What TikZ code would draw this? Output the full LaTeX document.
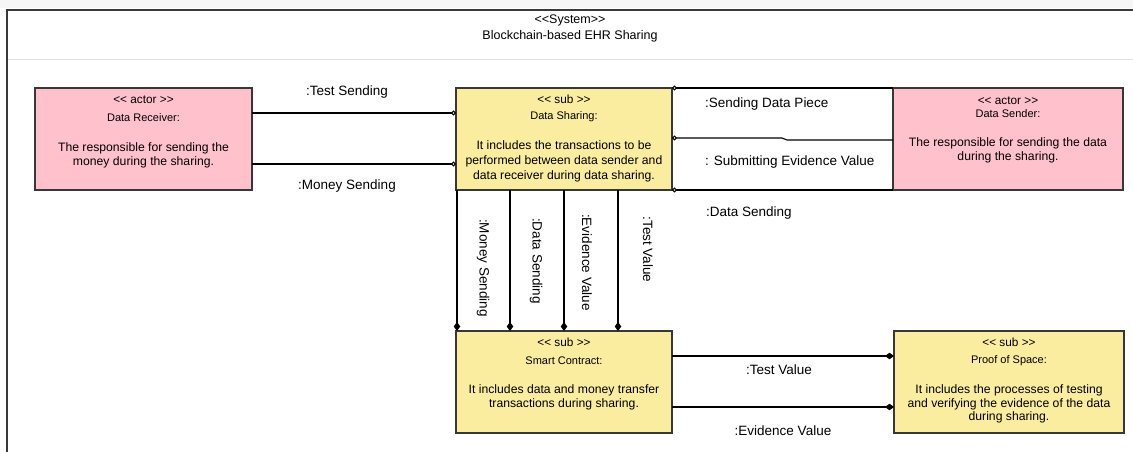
\documentclass[tikz,border=0pt]{standalone}
\usepackage{fontspec}
\setmainfont{Liberation Sans}
\usetikzlibrary{arrows.meta}
\definecolor{pinkfill}{RGB}{255,194,205}
\definecolor{yellowfill}{RGB}{250,237,160}
\definecolor{edgecol}{RGB}{55,55,55}
\begin{document}
\begin{tikzpicture}[x=1pt,y=-1pt,
  box/.style={draw=edgecol, line width=1.1pt, inner sep=0pt, outer sep=0pt, minimum height=102pt},
  actorbox/.style={box, fill=pinkfill},
  subbox/.style={box, fill=yellowfill},
  btxt/.style={font=\fontsize{11}{13.5}\selectfont, align=center, inner sep=0pt},
  stxt/.style={font=\fontsize{11.8}{13.5}\selectfont, align=center, inner sep=0pt},
  dtxt/.style={font=\fontsize{12.2}{13.8}\selectfont, align=center, inner sep=0pt},
  lbl/.style={font=\fontsize{13.5}{16}\selectfont, inner sep=0pt},
  ttl/.style={font=\fontsize{12.5}{14}\selectfont, inner sep=0pt},
  conn/.style={draw=black, line width=1.1pt},
  ocirc/.style={conn, -{Circle[open,length=5pt,width=5pt,fill=white]}},
  ocircs/.style={conn, {Circle[open,length=5pt,width=5pt,fill=white]}-},
  diam/.style={conn, -{Diamond[length=9pt,width=6.5pt]}}
]
\useasboundingbox (0,0) rectangle (1133,452);
\fill[gray!7] (0,0) rectangle (1133,8);
% system frame
\draw[line width=1.6pt, draw=gray!45!black] (1140,10) -- (7,10) -- (7,460);
\draw[line width=0.8pt, draw=gray!25] (8,59) -- (1140,59);
\node[ttl] (sysst) at (570,20) {<{}<System>{}>};
\node[ttl] (sysnm) at (570,36) {Blockchain-based EHR Sharing};

% boxes
\node[actorbox, minimum width=217pt] (recv) at (143.5,139) {};
\node[subbox, minimum width=216pt] (share) at (564,139) {};
\node[actorbox, minimum width=230pt] (sender) at (1008,139) {};
\node[subbox, minimum width=216pt] (smart) at (564,382) {};
\node[subbox, minimum width=230pt] (pos) at (1009,382) {};

% box texts
\node[stxt] (recvst) at ([yshift=-12pt]recv.north) {<{}< actor >{}>};
\node[btxt] (recvnm) at ([yshift=-30pt]recv.north) {Data Receiver:};
\node[dtxt] (recvds) at ([yshift=-67.5pt]recv.north) {The responsible for sending the\\money during the sharing.};

\node[stxt] (sharest) at ([yshift=-11pt]share.north) {<{}< sub >{}>};
\node[btxt] (sharenm) at ([yshift=-29pt]share.north) {Data Sharing:};
\node[dtxt, font=\fontsize{12.2}{15}\selectfont] (shareds) at ([yshift=-73pt]share.north) {It includes the transactions to be\\performed between data sender and\\data receiver during data sharing.};

\node[stxt] (senderst) at ([yshift=-13pt]sender.north) {<{}< actor >{}>};
\node[btxt] (sendernm) at ([yshift=-26pt]sender.north) {Data Sender:};
\node[dtxt] (senderds) at ([yshift=-62pt]sender.north) {The responsible for sending the data\\during the sharing.};

\node[stxt] (smartst) at ([yshift=-11pt]smart.north) {<{}< sub >{}>};
\node[btxt] (smartnm) at ([yshift=-30pt]smart.north) {Smart Contract:};
\node[dtxt] (smartds) at ([yshift=-66pt]smart.north) {It includes data and money transfer\\transactions during sharing.};

\node[stxt] (posst) at ([yshift=-11pt]pos.north) {<{}< sub >{}>};
\node[btxt] (posnm) at ([yshift=-30pt]pos.north) {Proof of Space:};
\node[dtxt] (posds) at ([yshift=-73pt]pos.north) {It includes the processes of testing\\and verifying the evidence of the data\\during sharing.};

% receiver <-> sharing
\draw[ocirc] ([yshift=26pt]recv.east) -- ([yshift=26pt]share.west);
\draw[ocirc] ([yshift=-25pt]recv.east) -- ([yshift=-25pt]share.west);
\node[lbl] (lts) at (347,92) {:Test Sending};
\node[lbl] (lms) at (347,186) {:Money Sending};

% sharing <-> sender
\draw[ocircs] (share.north east) -- (sender.north west);
\draw[ocircs] ([yshift=1pt]share.east) -- ++(110,0) -- ++(5,2) -- ([yshift=-1pt]sender.west);
\draw[ocircs] (share.south east) -- (sender.south west);
\node[lbl, anchor=west] (lsdp) at (705,104) {:Sending Data Piece};
\node[lbl, anchor=west] (lsev) at (705,162) {: Submitting Evidence Value};
\node[lbl, anchor=west] (lds) at (706,213) {:Data Sending};

% sharing -> smart contract
\draw[diam] ([xshift=-107pt]share.south) -- ([xshift=-107pt]smart.north);
\draw[diam] ([xshift=-54pt]share.south) -- ([xshift=-54pt]smart.north);
\draw[diam] (share.south) -- (smart.north);
\draw[diam] ([xshift=54pt]share.south) -- ([xshift=54pt]smart.north);
\node[lbl, rotate=-90] (vms) at (483,268) {:Money Sending};
\node[lbl, rotate=-90] (vds) at (536,261) {:Data Sending};
\node[lbl, rotate=-90] (vev) at (587,262.5) {:Evidence Value};
\node[lbl, rotate=-90] (vtv) at (648,249.5) {:Test Value};

% smart contract -> proof of space
\draw[diam] ([yshift=26pt]smart.east) -- ([yshift=26pt]pos.west);
\draw[diam] ([yshift=-25pt]smart.east) -- ([yshift=-25pt]pos.west);
\node[lbl] (ltv) at (779,370) {:Test Value};
\node[lbl] (lev) at (783,431) {:Evidence Value};
\end{tikzpicture}
\end{document}
